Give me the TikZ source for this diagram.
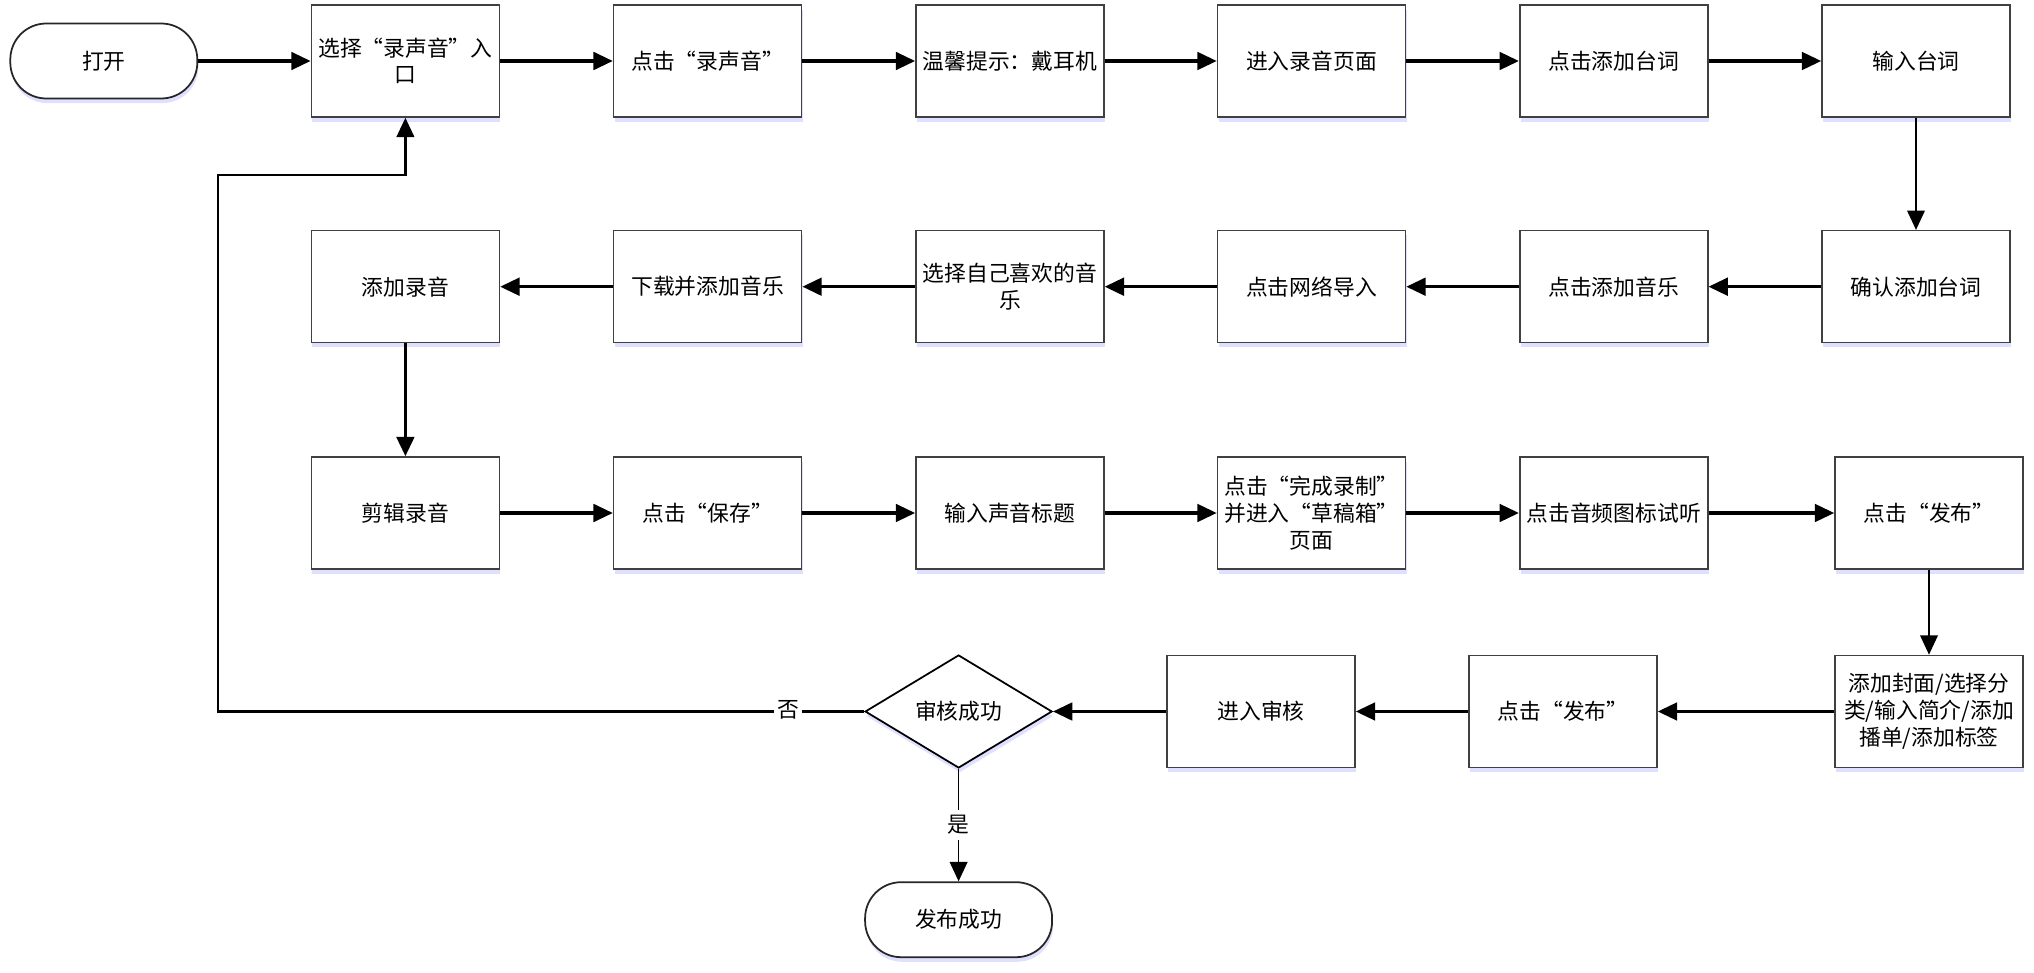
\documentclass[tikz,border=0pt]{standalone}
\usepackage{fontspec}
\setmainfont{Noto Sans CJK SC}
\usetikzlibrary{arrows.meta, shapes.geometric, shadows, positioning}

\begin{document}
\begin{tikzpicture}[
  font=\fontsize{6.2}{7.6}\selectfont,
  shade/.style={drop shadow={shadow xshift=0.3pt, shadow yshift=-1.3pt, fill=blue!25!white, opacity=0.5}},
  box/.style={draw=black!75, line width=0.45pt, fill=white, minimum width=1.88cm, minimum height=1.12cm, align=center, inner sep=1pt, shade},
  term/.style={draw=black!85, line width=0.5pt, fill=white, rounded corners=0.36cm, minimum width=1.87cm, minimum height=0.75cm, shade},
  check/.style={diamond, draw=black, line width=0.5pt, fill=white, minimum width=1.87cm, minimum height=1.13cm, inner sep=0pt, aspect=1.6, shade},
  flow/.style={line width=0.9pt, -{Triangle[length=5.5pt,width=5pt]}},
  thinflow/.style={line width=0.5pt, -{Triangle[length=5.5pt,width=5pt]}}
]
\useasboundingbox (0,0) rectangle (20.34,9.72);

% row 1
\node[term] (open) at (1.038,9.11) {打开};
\node[box] (entry) at (4.054,9.11) {选择“录声音”入\\口};
\node[box] (clickrec) at (7.076,9.11) {点击“录声音”};
\node[box] (tip) at (10.099,9.11) {温馨提示：戴耳机};
\node[box] (recpage) at (13.115,9.11) {进入录音页面};
\node[box] (addlines) at (16.137,9.11) {点击添加台词};
\node[box] (inputlines) at (19.16,9.11) {输入台词};

% row 2
\node[box] (confirm) at (19.16,6.853) {确认添加台词};
\node[box] (addmusic) at (16.137,6.853) {点击添加音乐};
\node[box] (netimport) at (13.115,6.853) {点击网络导入};
\node[box] (choose) at (10.099,6.853) {选择自己喜欢的音\\乐};
\node[box] (download) at (7.076,6.853) {下载并添加音乐};
\node[box] (addrec) at (4.054,6.853) {添加录音};

% row 3
\node[box] (edit) at (4.054,4.59) {剪辑录音};
\node[box] (save) at (7.076,4.59) {点击“保存”};
\node[box] (title) at (10.099,4.59) {输入声音标题};
\node[box] (finish) at (13.115,4.59) {点击“完成录制”\\并进入“草稿箱”\\页面};
\node[box] (listen) at (16.137,4.59) {点击音频图标试听};
\node[box] (publish) at (19.29,4.59) {点击“发布”};

% row 4
\node[box] (meta) at (19.29,2.605) {添加封面/选择分\\类/输入简介/添加\\播单/添加标签};
\node[box] (publishb) at (15.63,2.605) {点击“发布”};
\node[box] (review) at (12.61,2.605) {进入审核};
\node[check] (ok) at (9.586,2.605) {审核成功};
\node[term] (done) at (9.586,0.523) {发布成功};

\coordinate (back) at (2.18,7.97);

\draw[flow] (open) -- (entry);
\draw[flow] (entry) -- (clickrec);
\draw[flow] (clickrec) -- (tip);
\draw[flow] (tip) -- (recpage);
\draw[flow] (recpage) -- (addlines);
\draw[flow] (addlines) -- (inputlines);
\draw[thinflow] (inputlines) -- (confirm);
\draw[flow] (confirm) -- (addmusic);
\draw[flow] (addmusic) -- (netimport);
\draw[flow] (netimport) -- (choose);
\draw[flow] (choose) -- (download);
\draw[flow] (download) -- (addrec);
\draw[flow] (addrec) -- (edit);
\draw[flow] (edit) -- (save);
\draw[flow] (save) -- (title);
\draw[flow] (title) -- (finish);
\draw[flow] (finish) -- (listen);
\draw[flow] (listen) -- (publish);
\draw[thinflow] (publish) -- (meta);
\draw[flow] (meta) -- (publishb);
\draw[flow] (publishb) -- (review);
\draw[flow] (review) -- (ok);
\draw[thinflow] (ok) -- node[fill=white, inner sep=1.5pt, pos=0.5] {是} (done);
\draw[flow, line width=0.7pt] (ok.west) -- node[fill=white, inner sep=1pt, pos=0.118, yshift=0.5pt] {否} (ok.west -| back) -- (back) -| (entry.south);
\end{tikzpicture}
\end{document}
